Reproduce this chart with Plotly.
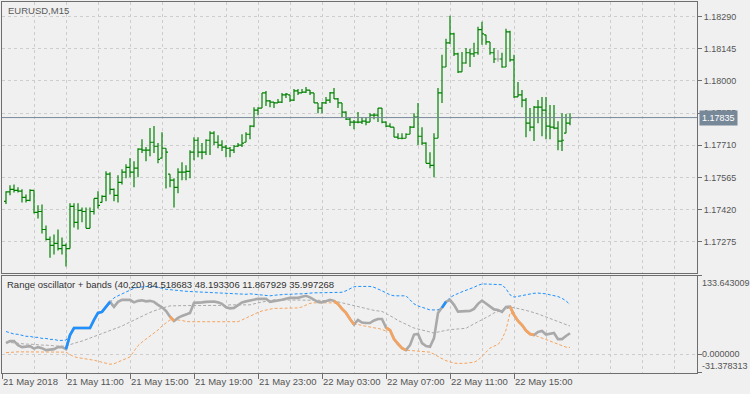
import pandas as pd
import plotly.graph_objects as go

symbol_title = "EURUSD,M15"
indicator_title = "Range oscillator + bands (40,20) 84.518683 48.193306 11.867929 35.997268"

times = pd.date_range("2018-05-21 07:15", periods=142, freq="15min")

opens = [1.17458, 1.17500, 1.17512, 1.17507, 1.17504, 1.17476, 1.17462, 1.17507, 1.17408, 1.17412,
         1.17331, 1.17286, 1.17259, 1.17268, 1.17245, 1.17259, 1.17245, 1.17435, 1.17363, 1.17417,
         1.17412, 1.17336, 1.17412, 1.17471, 1.17453, 1.17480, 1.17580, 1.17512, 1.17485, 1.17543,
         1.17589, 1.17611, 1.17589, 1.17607, 1.17693, 1.17688, 1.17688, 1.17724, 1.17706, 1.17652,
         1.17697, 1.17580, 1.17553, 1.17521, 1.17589, 1.17589, 1.17593, 1.17679, 1.17733, 1.17679,
         1.17679, 1.17733, 1.17765, 1.17724, 1.17711, 1.17702, 1.17697, 1.17688, 1.17706, 1.17711,
         1.17724, 1.17760, 1.17797, 1.17869, 1.17878, 1.17946, 1.17910, 1.17905, 1.17901, 1.17905,
         1.17937, 1.17937, 1.17914, 1.17955, 1.17946, 1.17950, 1.17959, 1.17946, 1.17901, 1.17878,
         1.17901, 1.17914, 1.17946, 1.17919, 1.17901, 1.17860, 1.17828, 1.17815, 1.17815, 1.17815,
         1.17819, 1.17815, 1.17846, 1.17846, 1.17878, 1.17815, 1.17797, 1.17792, 1.17747, 1.17742,
         1.17742, 1.17760, 1.17792, 1.17837, 1.17751, 1.17720, 1.17629, 1.17620, 1.17742, 1.17946,
         1.18063, 1.18172, 1.18212, 1.18122, 1.18041, 1.18081, 1.18127, 1.18122, 1.18127, 1.18231,
         1.18208, 1.18176, 1.18127, 1.18099, 1.18099, 1.18063, 1.18221, 1.18095, 1.17928, 1.17937,
         1.17914, 1.17810, 1.17792, 1.17882, 1.17882, 1.17869, 1.17797, 1.17792, 1.17788, 1.17729,
         1.17765, 1.17810]
highs = [1.17503, 1.17530, 1.17534, 1.17521, 1.17512, 1.17489, 1.17512, 1.17507, 1.17440, 1.17444,
         1.17349, 1.17299, 1.17308, 1.17331, 1.17295, 1.17268, 1.17449, 1.17449, 1.17449, 1.17430,
         1.17430, 1.17430, 1.17471, 1.17503, 1.17485, 1.17593, 1.17589, 1.17516, 1.17575, 1.17602,
         1.17625, 1.17652, 1.17638, 1.17697, 1.17738, 1.17702, 1.17788, 1.17797, 1.17720, 1.17769,
         1.17697, 1.17580, 1.17562, 1.17607, 1.17634, 1.17620, 1.17688, 1.17747, 1.17747, 1.17720,
         1.17738, 1.17774, 1.17774, 1.17756, 1.17733, 1.17711, 1.17702, 1.17711, 1.17720, 1.17760,
         1.17769, 1.17801, 1.17882, 1.17882, 1.17946, 1.17955, 1.17914, 1.17905, 1.17919, 1.17946,
         1.17946, 1.17937, 1.17964, 1.17964, 1.17964, 1.17973, 1.17959, 1.17946, 1.17901, 1.17905,
         1.17928, 1.17950, 1.17968, 1.17923, 1.17901, 1.17864, 1.17837, 1.17824, 1.17860, 1.17837,
         1.17837, 1.17855, 1.17855, 1.17878, 1.17878, 1.17819, 1.17810, 1.17792, 1.17765, 1.17765,
         1.17765, 1.17797, 1.17855, 1.17901, 1.17792, 1.17724, 1.17679, 1.17765, 1.17968, 1.18118,
         1.18190, 1.18294, 1.18217, 1.18127, 1.18131, 1.18149, 1.18145, 1.18172, 1.18244, 1.18267,
         1.18208, 1.18176, 1.18149, 1.18140, 1.18127, 1.18235, 1.18226, 1.18118, 1.17995, 1.17959,
         1.17923, 1.17878, 1.17887, 1.17914, 1.17928, 1.17928, 1.17892, 1.17892, 1.17819, 1.17855,
         1.17851, 1.17855]
lows = [1.17446, 1.17485, 1.17498, 1.17498, 1.17453, 1.17453, 1.17458, 1.17403, 1.17381, 1.17313,
        1.17281, 1.17204, 1.17218, 1.17236, 1.17218, 1.17164, 1.17245, 1.17340, 1.17331, 1.17363,
        1.17336, 1.17336, 1.17399, 1.17426, 1.17453, 1.17458, 1.17489, 1.17458, 1.17453, 1.17534,
        1.17562, 1.17566, 1.17521, 1.17566, 1.17675, 1.17638, 1.17661, 1.17675, 1.17629, 1.17652,
        1.17516, 1.17521, 1.17430, 1.17494, 1.17553, 1.17553, 1.17562, 1.17643, 1.17656, 1.17647,
        1.17666, 1.17666, 1.17711, 1.17697, 1.17684, 1.17656, 1.17656, 1.17675, 1.17702, 1.17702,
        1.17724, 1.17738, 1.17792, 1.17846, 1.17878, 1.17887, 1.17882, 1.17878, 1.17901, 1.17901,
        1.17923, 1.17905, 1.17910, 1.17937, 1.17946, 1.17946, 1.17937, 1.17901, 1.17855, 1.17855,
        1.17896, 1.17901, 1.17919, 1.17878, 1.17837, 1.17824, 1.17797, 1.17783, 1.17810, 1.17806,
        1.17801, 1.17815, 1.17828, 1.17815, 1.17810, 1.17792, 1.17792, 1.17747, 1.17738, 1.17738,
        1.17742, 1.17760, 1.17788, 1.17711, 1.17711, 1.17629, 1.17607, 1.17566, 1.17742, 1.17901,
        1.18063, 1.18167, 1.18113, 1.18036, 1.18041, 1.18077, 1.18063, 1.18108, 1.18118, 1.18163,
        1.18163, 1.18118, 1.18081, 1.18086, 1.18059, 1.18063, 1.18086, 1.17923, 1.17928, 1.17882,
        1.17747, 1.17774, 1.17729, 1.17810, 1.17751, 1.17738, 1.17738, 1.17783, 1.17688, 1.17684,
        1.17765, 1.17801]
closes = [1.17500, 1.17512, 1.17507, 1.17504, 1.17476, 1.17462, 1.17507, 1.17408, 1.17412, 1.17331,
          1.17286, 1.17259, 1.17268, 1.17245, 1.17259, 1.17245, 1.17435, 1.17363, 1.17417, 1.17412,
          1.17336, 1.17412, 1.17471, 1.17440, 1.17480, 1.17580, 1.17512, 1.17485, 1.17543, 1.17589,
          1.17611, 1.17589, 1.17607, 1.17693, 1.17688, 1.17688, 1.17724, 1.17706, 1.17647, 1.17697,
          1.17679, 1.17553, 1.17521, 1.17589, 1.17589, 1.17593, 1.17679, 1.17733, 1.17679, 1.17679,
          1.17733, 1.17765, 1.17724, 1.17711, 1.17702, 1.17697, 1.17688, 1.17706, 1.17711, 1.17720,
          1.17760, 1.17797, 1.17869, 1.17878, 1.17946, 1.17910, 1.17905, 1.17901, 1.17905, 1.17937,
          1.17941, 1.17914, 1.17955, 1.17946, 1.17950, 1.17959, 1.17946, 1.17901, 1.17878, 1.17901,
          1.17914, 1.17946, 1.17919, 1.17901, 1.17860, 1.17828, 1.17815, 1.17815, 1.17815, 1.17819,
          1.17815, 1.17846, 1.17846, 1.17878, 1.17815, 1.17797, 1.17792, 1.17747, 1.17742, 1.17742,
          1.17760, 1.17792, 1.17837, 1.17751, 1.17720, 1.17629, 1.17620, 1.17742, 1.17946, 1.18063,
          1.18172, 1.18212, 1.18122, 1.18041, 1.18081, 1.18127, 1.18122, 1.18127, 1.18231, 1.18212,
          1.18176, 1.18127, 1.18099, 1.18099, 1.18063, 1.18221, 1.18095, 1.17928, 1.17937, 1.17914,
          1.17810, 1.17792, 1.17882, 1.17882, 1.17869, 1.17797, 1.17792, 1.17788, 1.17729, 1.17733,
          1.17810, 1.17835]
gray_bars = [123]

osc = [19.3, 22.7, 22.7, 15.9, 12.5, 13.4, 14.2, 10.0, 12.5, 10.8,
       7.4, 8.3, 9.1, 12.5, 12.5, 9.1, 33.0, 44.9, 44.9, 44.9,
       44.9, 44.9, 58.6, 70.5, 72.2, 80.7, 89.3, 80.7, 89.3, 92.7,
       92.7, 92.7, 88.4, 91.0, 91.8, 90.1, 91.0, 89.3, 84.2, 79.9,
       73.9, 64.2, 56.9, 62.0, 65.4, 68.0, 70.5, 87.6, 87.6, 88.4,
       89.3, 89.3, 89.8, 88.4, 85.9, 79.9, 78.2, 79.0, 83.3, 88.4,
       90.1, 91.5, 92.7, 94.4, 94.4, 94.4, 89.3, 90.1, 91.0, 92.7,
       94.4, 96.1, 96.1, 96.1, 97.8, 99.5, 96.9, 92.7, 89.0, 88.4,
       91.0, 92.7, 91.0, 85.9, 77.3, 70.5, 60.3, 50.9, 58.6, 54.3,
       53.4, 53.4, 57.7, 60.3, 60.3, 45.7, 41.5, 26.1, 17.6, 10.8,
       7.4, 15.9, 33.8, 34.7, 19.3, 14.2, 13.0, 27.8, 70.5, 79.0,
       89.3, 92.7, 84.2, 72.7, 73.0, 73.9, 73.9, 77.3, 85.9, 91.5,
       86.7, 81.2, 76.5, 75.6, 72.2, 80.7, 81.2, 67.1, 56.9, 50.0,
       40.6, 34.7, 33.0, 38.1, 39.8, 33.8, 35.5, 36.4, 26.1, 26.1,
       31.3, 35.997268]
upper = [38.9, 36.4, 34.7, 34.2, 32.5, 30.8, 30.8, 29.1, 29.1, 27.3,
         27.3, 25.6, 25.6, 23.9, 23.9, 24.4, 33.0, 44.9, 44.9, 44.9,
         44.9, 44.9, 58.6, 70.5, 72.2, 80.7, 89.3, 96.1, 99.5, 102.9,
         106.3, 109.7, 112.3, 114.0, 114.9, 115.7, 115.7, 114.9, 114.0, 112.3,
         110.6, 109.7, 109.7, 108.9, 108.0, 107.2, 106.8, 106.3, 106.3, 105.8,
         105.5, 105.0, 104.6, 104.1, 104.1, 103.8, 103.4, 102.9, 102.9, 102.6,
         102.1, 102.9, 102.1, 101.2, 100.4, 99.5, 99.5, 100.4, 101.2, 101.2,
         102.1, 102.1, 102.9, 102.9, 102.9, 103.8, 103.8, 104.6, 104.6, 104.6,
         104.6, 104.6, 104.6, 104.6, 105.5, 108.0, 111.5, 114.9, 115.4, 115.4,
         115.4, 115.4, 114.0, 111.5, 108.0, 104.6, 101.2, 99.5, 99.5, 99.5,
         99.5, 92.7, 85.9, 82.4, 79.9, 77.3, 75.6, 75.6, 75.6, 80.5,
         89.3, 96.6, 100.4, 103.8, 106.3, 108.9, 110.9, 114.0, 117.4, 119.5,
         119.5, 119.5, 119.1, 119.1, 118.3, 111.5, 101.2, 97.3, 98.7, 100.4,
         101.2, 102.1, 103.8, 104.1, 103.8, 102.9, 101.2, 99.5, 98.3, 95.2,
         91.0, 84.518683]
middle = [21.0, 20.2, 19.3, 19.3, 18.5, 17.6, 17.6, 16.7, 16.7, 15.9,
          15.9, 15.0, 15.0, 14.2, 14.2, 14.2, 16.7, 19.3, 21.0, 22.7,
          25.3, 27.8, 29.6, 32.1, 34.7, 38.1, 40.6, 43.2, 45.7, 48.3,
          51.7, 55.1, 58.6, 62.0, 65.4, 68.8, 71.3, 73.9, 76.5, 79.0,
          80.7, 82.4, 82.9, 82.9, 82.9, 82.9, 82.9, 82.9, 82.9, 82.9,
          83.3, 83.3, 83.3, 83.3, 83.3, 83.3, 84.2, 84.2, 84.2, 84.2,
          84.2, 84.2, 85.9, 87.6, 89.3, 91.0, 91.8, 92.7, 92.7, 92.7,
          92.7, 92.7, 92.7, 92.7, 92.7, 92.7, 92.7, 92.7, 92.7, 91.8,
          91.0, 91.0, 90.1, 89.3, 87.6, 86.7, 85.0, 83.3, 81.6, 79.9,
          78.2, 76.5, 74.8, 73.9, 73.0, 69.6, 66.2, 62.0, 57.7, 54.3,
          50.9, 48.3, 44.9, 43.2, 41.5, 39.8, 38.1, 36.4, 38.1, 39.8,
          41.5, 42.3, 42.7, 43.2, 44.0, 44.4, 48.3, 51.7, 55.1, 58.6,
          62.0, 66.2, 70.5, 73.0, 75.6, 78.2, 79.5, 79.5, 78.2, 76.5,
          74.8, 73.0, 71.3, 68.8, 66.2, 63.7, 61.1, 58.6, 56.0, 53.4,
          50.9, 48.193306]
lower = [3.1, 4.0, 4.0, 4.5, 4.5, 4.5, 4.5, 4.5, 4.5, 4.5,
         4.5, 4.5, 4.5, 4.5, 4.5, 4.0, -0.3, -3.7, -5.4, -6.3,
         -7.1, -8.0, -9.7, -11.4, -13.1, -14.8, -16.5, -15.7, -13.1, -10.5,
         -7.1, -4.1, 5.7, 15.0, 21.0, 26.1, 30.1, 36.4, 41.5, 48.3,
         53.4, 58.6, 56.9, 58.6, 57.7, 56.0, 55.6, 55.6, 55.6, 55.6,
         55.6, 55.6, 55.6, 55.6, 55.6, 55.6, 55.6, 55.6, 55.6, 58.6,
         62.0, 64.2, 67.9, 71.3, 73.9, 75.6, 77.3, 78.2, 78.2, 78.2,
         78.2, 78.2, 78.2, 79.0, 80.7, 84.2, 86.7, 87.6, 87.6, 87.6,
         87.6, 87.6, 87.6, 85.9, 77.3, 70.5, 60.3, 50.9, 50.9, 49.2,
         48.3, 46.6, 45.2, 44.4, 42.3, 39.8, 41.5, 26.1, 17.6, 10.8,
         7.4, 6.9, 6.5, 6.2, 5.7, 5.7, 4.0, 0.5, -3.7, -7.1,
         -10.5, -13.1, -14.5, -15.3, -15.3, -14.8, -13.9, -13.1, -9.7, -2.9,
         4.0, 10.8, 14.2, 16.7, 26.1, 41.5, 70.5, 67.1, 56.9, 50.0,
         40.6, 34.7, 33.0, 30.4, 27.8, 25.3, 22.7, 20.2, 16.7, 14.2,
         12.5, 11.867929]

price_ticks = [1.17275, 1.17420, 1.17565, 1.17710, 1.17855, 1.18000, 1.18145, 1.18290]
price_range = [1.171327, 1.183557]
osc_range = [-31.378313, 133.643009]
osc_ticks = [-31.378313, 0.0, 133.643009]
time_tickvals = ["2018-05-21 07:00", "2018-05-21 11:00", "2018-05-21 15:00", "2018-05-21 19:00",
                 "2018-05-21 23:00", "2018-05-22 03:00", "2018-05-22 07:00", "2018-05-22 11:00",
                 "2018-05-22 15:00"]
time_ticktext = ["21 May 2018", "21 May 11:00", "21 May 15:00", "21 May 19:00", "21 May 23:00",
                 "22 May 03:00", "22 May 07:00", "22 May 11:00", "22 May 15:00"]
time_range = ["2018-05-21 07:00", "2018-05-23 02:26:15"]

BG = "#f0f0f0"
GRID = "#cdcdcd"
FRAME = "#6e6e6e"
TXT = "#555555"
BAR = "#008000"
FONT = "Liberation Sans"
FS = 9

n = len(closes)
main_o = [None if i in gray_bars else opens[i] for i in range(n)]
main_h = [None if i in gray_bars else highs[i] for i in range(n)]
main_l = [None if i in gray_bars else lows[i] for i in range(n)]
main_c = [None if i in gray_bars else closes[i] for i in range(n)]

fig = go.Figure()
fig.add_trace(go.Ohlc(x=times, open=main_o, high=main_h, low=main_l, close=main_c,
                      increasing=dict(line=dict(color=BAR, width=1.2)),
                      decreasing=dict(line=dict(color=BAR, width=1.2)),
                      tickwidth=0.5, xaxis="x", yaxis="y", hoverinfo="skip"))
gx = []
go_, gh, gl, gc = [], [], [], []
for i in gray_bars:
    gx += [times[i], times[i] + pd.Timedelta(minutes=15)]
    go_ += [opens[i], None]
    gh += [highs[i], None]
    gl += [lows[i], None]
    gc += [closes[i], None]
fig.add_trace(go.Ohlc(x=gx, open=go_, high=gh, low=gl, close=gc,
                      increasing=dict(line=dict(color="#a9a9a9", width=1.2)),
                      decreasing=dict(line=dict(color="#a9a9a9", width=1.2)),
                      tickwidth=0.5, xaxis="x", yaxis="y", hoverinfo="skip"))

# indicator
dash = "3px,2px"
fig.add_trace(go.Scatter(x=times, y=middle, mode="lines", line=dict(color="#a9a9a9", width=1, dash=dash),
                         xaxis="x2", yaxis="y2"))
fig.add_trace(go.Scatter(x=times, y=upper, mode="lines", line=dict(color="#1e90ff", width=1, dash=dash),
                         xaxis="x2", yaxis="y2"))
fig.add_trace(go.Scatter(x=times, y=lower, mode="lines", line=dict(color="#f4a460", width=1, dash=dash),
                         xaxis="x2", yaxis="y2"))
fig.add_trace(go.Scatter(x=times, y=osc, mode="lines", line=dict(color="#a9a9a9", width=2.6),
                         xaxis="x2", yaxis="y2"))

up_state = [osc[i] >= upper[i] - 1e-9 for i in range(n)]
dn_state = [osc[i] <= lower[i] + 1e-9 for i in range(n)]


def segment(state):
    out = []
    for i in range(n):
        if state[i] or (i + 1 < n and state[i + 1]):
            out.append(osc[i])
        else:
            out.append(None)
    return out


fig.add_trace(go.Scatter(x=times, y=segment(up_state), mode="lines", connectgaps=False,
                         line=dict(color="#1e90ff", width=2.6), xaxis="x2", yaxis="y2"))
fig.add_trace(go.Scatter(x=times, y=segment(dn_state), mode="lines", connectgaps=False,
                         line=dict(color="#f4a460", width=2.6), xaxis="x2", yaxis="y2"))

grid_minor = dict(tickmode="linear", tick0="2018-05-21 07:00", dtick=7200000, showgrid=True,
                  gridcolor=GRID, griddash="3px,3px", gridwidth=1)
common_x = dict(type="date", range=time_range, tickmode="array", tickvals=time_tickvals,
                showgrid=True, gridcolor=GRID, griddash="3px,3px", gridwidth=1, minor=grid_minor,
                showline=True, linecolor=FRAME, linewidth=1, mirror=True, zeroline=False,
                automargin=False, tickangle=0)

fig.update_layout(
    width=750, height=394, margin=dict(l=2, r=53, t=2, b=21, autoexpand=False),
    paper_bgcolor=BG, plot_bgcolor=BG, showlegend=False,
    font=dict(family=FONT, size=FS, color=TXT),
    xaxis=dict(common_x, domain=[0, 1], anchor="y", showticklabels=False, ticks="",
               rangeslider=dict(visible=False)),
    xaxis2=dict(common_x, domain=[0, 1], anchor="y2", matches="x", ticktext=time_ticktext,
                showticklabels=True, ticks="outside", ticklen=5, tickcolor=FRAME,
                ticklabelposition="outside right", rangeslider=dict(visible=False),
                tickfont=dict(family=FONT, size=9.5, color=TXT)),
    yaxis=dict(domain=[0.2682, 1], anchor="x", side="right", range=price_range,
               tickmode="array", tickvals=price_ticks, tickformat=".5f",
               ticks="outside", ticklen=4, tickcolor=FRAME, automargin=False,
               showgrid=True, gridcolor=GRID, griddash="3px,3px", gridwidth=1,
               showline=True, linecolor=FRAME, linewidth=1, mirror=True, zeroline=False),
    yaxis2=dict(domain=[0, 0.2623], anchor="x2", side="right", range=osc_range,
                tickmode="array", tickvals=osc_ticks, showticklabels=False,
                ticks="outside", ticklen=4, tickcolor=FRAME, automargin=False,
                showgrid=True, gridcolor=GRID, griddash="3px,3px", gridwidth=1,
                showline=True, linecolor=FRAME, linewidth=1, mirror=True, zeroline=False),
)

last = closes[-1]
fig.add_shape(type="line", xref="x domain", x0=0, x1=1, yref="y", y0=last, y1=last,
              line=dict(color="#778899", width=1))

fig.add_annotation(text=symbol_title, xref="paper", x=0, xshift=4, xanchor="left",
                   yref="paper", y=1, yanchor="top", yshift=-1, showarrow=False,
                   font=dict(family=FONT, size=9.5, color="#5a5a5a"))
fig.add_annotation(text=indicator_title, xref="paper", x=0, xshift=3, xanchor="left",
                   yref="y2 domain", y=1, yanchor="top", yshift=-1, showarrow=False,
                   font=dict(family=FONT, size=9.5, color="#333333"))
fig.add_annotation(text=f"{last:.5f}", xref="paper", x=1, xshift=2, xanchor="left",
                   yref="y", y=last, yanchor="middle", showarrow=False,
                   bgcolor="#778899", borderpad=2, font=dict(family=FONT, size=FS, color="#ffffff"))
anchors = {osc_ticks[0]: "bottom", osc_ticks[1]: "middle", osc_ticks[2]: "top"}
for v in osc_ticks:
    fig.add_annotation(text=f"{v:.6f}", xref="paper", x=1, xshift=3, xanchor="left",
                       yref="y2", y=v, yanchor=anchors[v], showarrow=False,
                       font=dict(family=FONT, size=FS, color=TXT))

fig.write_html("out.html")
